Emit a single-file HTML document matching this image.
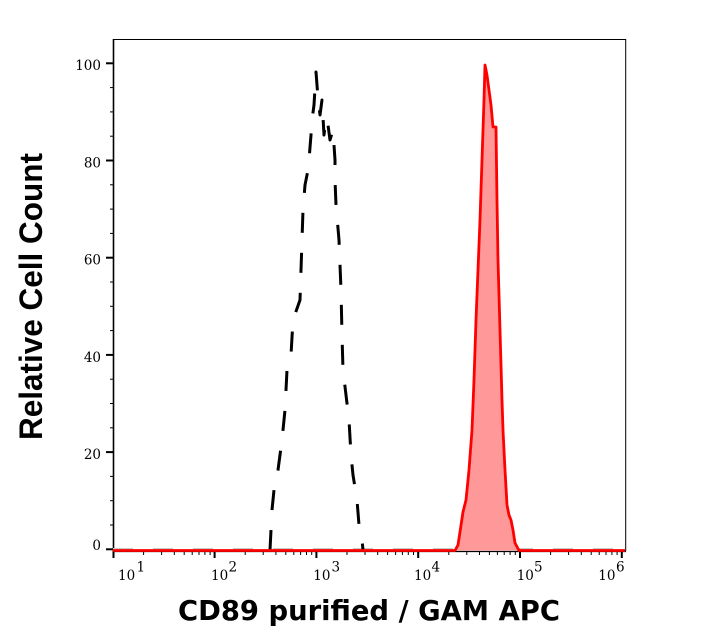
<!DOCTYPE html>
<html>
<head>
<meta charset="utf-8">
<style>
  html,body{margin:0;padding:0;background:#fff;}
  svg{display:block;}
</style>
</head>
<body>
<svg width="718" height="641" viewBox="0 0 718 641" xmlns="http://www.w3.org/2000/svg">
  <rect x="0" y="0" width="718" height="641" fill="#fff"/>

  <line x1="113" y1="39.5" x2="626" y2="39.5" stroke="#000" stroke-width="1"/>
  <line x1="625.7" y1="39" x2="625.7" y2="551" stroke="#000" stroke-width="1"/>
  <line x1="113.5" y1="39" x2="113.5" y2="552" stroke="#000" stroke-width="1.6"/>
  <line x1="113" y1="551.5" x2="626" y2="551.5" stroke="#000" stroke-width="1.2"/>

  <g stroke="#000">
    <line x1="106" y1="63.3" x2="113" y2="63.3" stroke-width="2"/>
    <line x1="106" y1="160.5" x2="113" y2="160.5" stroke-width="2"/>
    <line x1="106" y1="257.7" x2="113" y2="257.7" stroke-width="2"/>
    <line x1="106" y1="354.9" x2="113" y2="354.9" stroke-width="2"/>
    <line x1="106" y1="452.1" x2="113" y2="452.1" stroke-width="2"/>
    <line x1="106" y1="549.3" x2="113" y2="549.3" stroke-width="2"/>
    <g stroke-width="1">
      <line x1="110" y1="87.6" x2="113" y2="87.6"/>
      <line x1="110" y1="111.9" x2="113" y2="111.9"/>
      <line x1="110" y1="136.2" x2="113" y2="136.2"/>
      <line x1="110" y1="184.8" x2="113" y2="184.8"/>
      <line x1="110" y1="209.1" x2="113" y2="209.1"/>
      <line x1="110" y1="233.4" x2="113" y2="233.4"/>
      <line x1="110" y1="282.0" x2="113" y2="282.0"/>
      <line x1="110" y1="306.3" x2="113" y2="306.3"/>
      <line x1="110" y1="330.6" x2="113" y2="330.6"/>
      <line x1="110" y1="379.2" x2="113" y2="379.2"/>
      <line x1="110" y1="403.5" x2="113" y2="403.5"/>
      <line x1="110" y1="427.8" x2="113" y2="427.8"/>
      <line x1="110" y1="476.4" x2="113" y2="476.4"/>
      <line x1="110" y1="500.7" x2="113" y2="500.7"/>
      <line x1="110" y1="525.0" x2="113" y2="525.0"/>
    </g>
  </g>

  <g font-family="DejaVu Serif, Liberation Serif, serif" font-size="13.5" fill="#000" text-anchor="end">
    <text x="101" y="70.2">100</text>
    <text x="101" y="167.4">80</text>
    <text x="101" y="264.6">60</text>
    <text x="101" y="361.8">40</text>
    <text x="101" y="459.0">20</text>
    <text x="101" y="550">0</text>
  </g>

  <g stroke="#000">
    <g stroke-width="2">
      <line x1="113.5" y1="551" x2="113.5" y2="558"/>
      <line x1="214.6" y1="551" x2="214.6" y2="558"/>
      <line x1="316.4" y1="551" x2="316.4" y2="558"/>
      <line x1="418.2" y1="551" x2="418.2" y2="558"/>
      <line x1="520" y1="551" x2="520" y2="558"/>
      <line x1="621.8" y1="551" x2="621.8" y2="558"/>
    </g>
    <g stroke-width="1">
      <line x1="143.6" y1="551" x2="143.6" y2="555"/>
      <line x1="161.6" y1="551" x2="161.6" y2="555"/>
      <line x1="174.3" y1="551" x2="174.3" y2="555"/>
      <line x1="184.2" y1="551" x2="184.2" y2="555"/>
      <line x1="192.2" y1="551" x2="192.2" y2="555"/>
      <line x1="199.0" y1="551" x2="199.0" y2="555"/>
      <line x1="204.9" y1="551" x2="204.9" y2="555"/>
      <line x1="210.1" y1="551" x2="210.1" y2="555"/>
      <line x1="245.2" y1="551" x2="245.2" y2="555"/>
      <line x1="263.2" y1="551" x2="263.2" y2="555"/>
      <line x1="275.9" y1="551" x2="275.9" y2="555"/>
      <line x1="285.8" y1="551" x2="285.8" y2="555"/>
      <line x1="293.8" y1="551" x2="293.8" y2="555"/>
      <line x1="300.6" y1="551" x2="300.6" y2="555"/>
      <line x1="306.5" y1="551" x2="306.5" y2="555"/>
      <line x1="311.7" y1="551" x2="311.7" y2="555"/>
      <line x1="347.0" y1="551" x2="347.0" y2="555"/>
      <line x1="365.0" y1="551" x2="365.0" y2="555"/>
      <line x1="377.7" y1="551" x2="377.7" y2="555"/>
      <line x1="387.6" y1="551" x2="387.6" y2="555"/>
      <line x1="395.6" y1="551" x2="395.6" y2="555"/>
      <line x1="402.4" y1="551" x2="402.4" y2="555"/>
      <line x1="408.3" y1="551" x2="408.3" y2="555"/>
      <line x1="413.5" y1="551" x2="413.5" y2="555"/>
      <line x1="448.8" y1="551" x2="448.8" y2="555"/>
      <line x1="466.8" y1="551" x2="466.8" y2="555"/>
      <line x1="479.5" y1="551" x2="479.5" y2="555"/>
      <line x1="489.4" y1="551" x2="489.4" y2="555"/>
      <line x1="497.4" y1="551" x2="497.4" y2="555"/>
      <line x1="504.2" y1="551" x2="504.2" y2="555"/>
      <line x1="510.1" y1="551" x2="510.1" y2="555"/>
      <line x1="515.3" y1="551" x2="515.3" y2="555"/>
      <line x1="550.6" y1="551" x2="550.6" y2="555"/>
      <line x1="568.6" y1="551" x2="568.6" y2="555"/>
      <line x1="581.3" y1="551" x2="581.3" y2="555"/>
      <line x1="591.2" y1="551" x2="591.2" y2="555"/>
      <line x1="599.2" y1="551" x2="599.2" y2="555"/>
      <line x1="606.0" y1="551" x2="606.0" y2="555"/>
      <line x1="611.9" y1="551" x2="611.9" y2="555"/>
      <line x1="617.1" y1="551" x2="617.1" y2="555"/>
    </g>
  </g>

  <g font-family="DejaVu Serif, Liberation Serif, serif" font-size="13.5" fill="#000">
    <text x="118" y="580">10</text><text x="136.5" y="571.5">1</text>
    <text x="211" y="580">10</text><text x="228.5" y="571.5">2</text>
    <text x="313.3" y="580">10</text><text x="331.5" y="571.5">3</text>
    <text x="414" y="580">10</text><text x="431.5" y="571.5">4</text>
    <text x="516.7" y="580">10</text><text x="534" y="571.5">5</text>
    <text x="598.3" y="580">10</text><text x="616" y="571.5">6</text>
  </g>

  <line x1="113" y1="548.8" x2="625" y2="548.8" stroke="#c8c8c8" stroke-width="1.5" stroke-dasharray="20,20"/>

  <path d="M455,550.5 L458,545 L460,532 L463,512 L466,500 L467,490 L469,470 L472,430 L474,380 L476,320 L478,270 L480,220 L482,160 L484,100 L485,65 L487,75 L489,90 L491,105 L493,127 L496,127 L497,200 L498,260 L500,330 L502,400 L503,430 L505,470 L507,505 L509,515 L511,520 L513,530 L515,543 L519,550.5 Z" fill="#ff9999" stroke="none"/>

  <path d="M270,550 L272,510 L274,490 L278,470 L282,440 L285,410 L287,370 L291,355 L293,320 L300,300 L301,270 L302,240 L303,210 L305,185 L308,170 L309,160 L311,135 L312,120 L314,105 L316,72 L318,98 L320,115 L322,100 L324,135 L326,118 L328,125 L330,140 L333,130 L335,160 L335,180 L336,205 L339,240 L341,290 L342,335 L343,370 L346,395 L349,420 L351,455 L353,475 L357,500 L359,525 L362,540 L363,550" fill="none" stroke="#000" stroke-width="3" stroke-dasharray="20,20" stroke-linejoin="round"/>

  <path d="M113,550.5 L455,550.5 L458,545 L460,532 L463,512 L466,500 L467,490 L469,470 L472,430 L474,380 L476,320 L478,270 L480,220 L482,160 L484,100 L485,65 L487,75 L489,90 L491,105 L493,127 L496,127 L497,200 L498,260 L500,330 L502,400 L503,430 L505,470 L507,505 L509,515 L511,520 L513,530 L515,543 L519,550.5 L625,550.5" fill="none" stroke="#ff0000" stroke-width="2.8" stroke-linejoin="round"/>

  <text x="369" y="620" text-anchor="middle" font-family="DejaVu Sans, Liberation Sans, sans-serif" font-weight="bold" font-size="28" fill="#000" textLength="382" lengthAdjust="spacingAndGlyphs">CD89 purified / GAM APC</text>
  <text transform="translate(42,296.5) rotate(-90)" text-anchor="middle" font-family="Liberation Sans, Arial, sans-serif" font-weight="bold" font-size="32" fill="#000" textLength="287" lengthAdjust="spacingAndGlyphs">Relative Cell Count</text>
</svg>
</body>
</html>
